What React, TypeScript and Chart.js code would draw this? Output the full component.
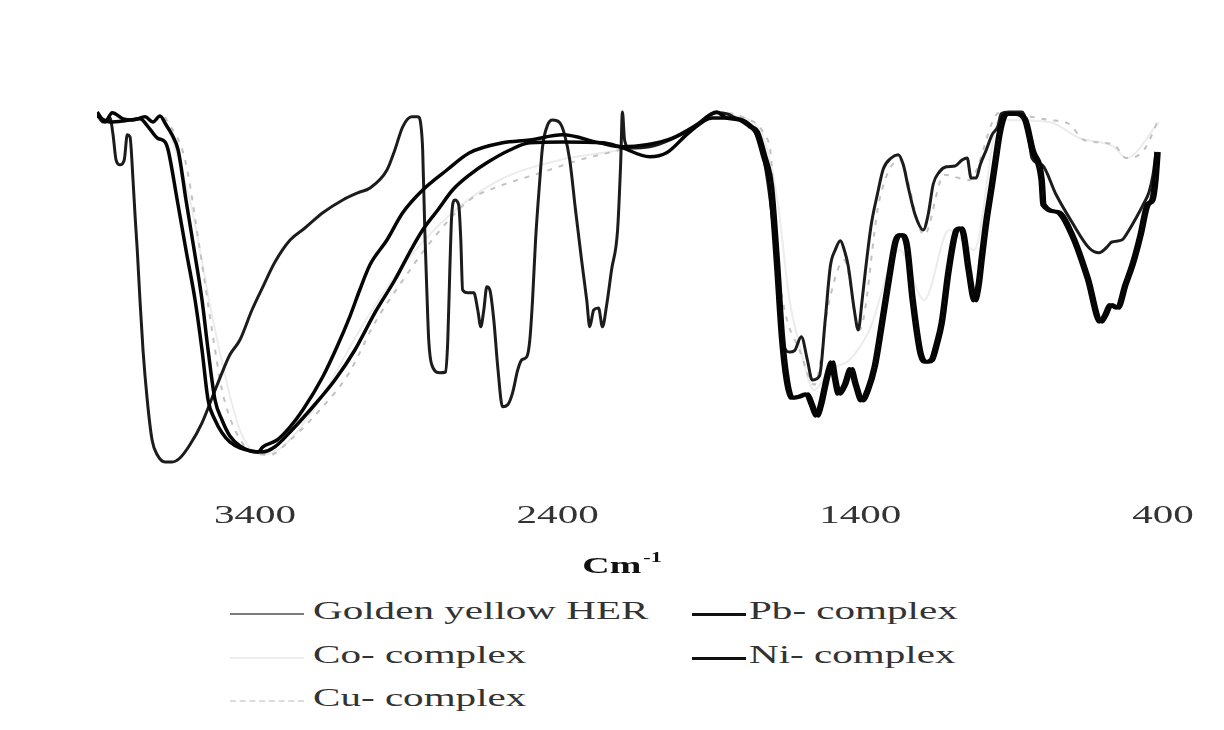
import React, { useEffect, useRef } from "react";
import { Chart, registerables } from "chart.js";

Chart.register(...registerables);

// x axis tick labels (wavenumber, cm-1)
const xTickValues = [3400, 2400, 1400, 400];

// Golden yellow HER
const herWn = [3921,3902,3879,3869,3859,3846,3832,3822,3813,3803,3796,3789,3780,3770,3756,3740,3723,3697,3674,3648,3615,3575,3542,3509,3483,3450,3410,3374,3334,3284,3235,3176,3110,3060,3020,2964,2938,2912,2882,2862,2852,2846,2839,2832,2826,2816,2789,2770,2763,2756,2750,2740,2727,2720,2714,2697,2677,2664,2654,2644,2634,2624,2611,2598,2582,2565,2549,2532,2519,2502,2492,2483,2473,2459,2450,2433,2417,2393,2377,2360,2341,2321,2304,2294,2281,2265,2252,2238,2222,2202,2192,2186,2179,2162,2096,2021,1941,1875,1839,1806,1776,1743,1724,1700,1677,1654,1634,1618,1595,1575,1559,1535,1516,1499,1483,1466,1453,1440,1420,1407,1394,1384,1364,1344,1324,1298,1275,1258,1242,1219,1192,1176,1159,1139,1116,1087,1064,1047,1034,1017,1004,984,965,945,935,908,866,849,833,800,753,701,644,611,588,569,536,512,489,466,446,433,423];
const herT = [91.3,89.5,90.5,86.3,80,78.8,80,86.3,85.8,75,65.8,57.5,45,32.5,20,10,6.3,4.5,4.5,5.5,8.8,14.3,20.5,26.8,31.3,35,42.5,48.3,54.5,60,63,66.8,70,71.8,73,77.5,82.5,88.3,90.8,90.8,88.8,82.5,62.5,46.8,35,28.8,26.8,27,35,53.3,66.3,70,68.8,60,47.5,46.8,46.8,42.5,38.3,42.5,48.3,47.5,40,28.3,18.3,18.8,21.8,27.5,30,30.8,35,45,60,75,83.3,88.8,90,89.3,86.3,80,67.5,55,45,38.3,42.5,43,38.3,43.8,52.5,62.5,78.8,92,85,83,83.3,85.3,88.5,91.8,91.5,90.3,89.5,86.3,82.3,71.3,55.3,34,32,32.3,35.8,30,25,26,40,53.5,57.5,59.8,57.5,53.5,42.5,37.5,45,51.8,63.8,71.3,77.8,80.5,81.3,78.8,73.3,66.3,62.5,66.3,74,77,78.3,78.5,80,80.5,75.5,75.5,78.8,82.5,86.3,88.5,91.5,92,92,88.8,80.5,78.8,71.3,64.5,58,56.8,58,59.5,60,62.5,65.5,68.8,72,76.3,82];

// Pb- complex
const pbWn = [3921,3895,3872,3836,3803,3763,3737,3714,3694,3674,3654,3628,3601,3575,3555,3532,3509,3483,3450,3417,3390,3374,3327,3284,3242,3176,3129,3087,3054,3020,2964,2912,2846,2766,2691,2582,2492,2384,2262,2186,2106,2021,1941,1875,1842,1799,1766,1747,1724,1700,1681,1664,1648,1631,1608,1582,1565,1549,1535,1522,1509,1499,1489,1476,1456,1436,1420,1400,1380,1357,1337,1311,1288,1271,1252,1232,1205,1186,1169,1153,1136,1113,1087,1073,1064,1047,1027,1014,1004,988,971,958,945,932,922,892,862,836,806,800,753,701,654,611,595,578,555,529,503,479,456,440,430,423];
const pbT = [92,89.5,91.8,90.3,90,90.8,89.5,91,88.8,86.3,82.5,70,57.5,45,32.5,20,15,11,8.5,7.3,7,8.3,10,13.3,17.5,25.8,33.3,40.8,47.5,53.8,60,66.8,72.5,77.5,81.8,84.3,85,86.3,84.3,83.3,83.8,85.5,88.8,92,90.5,90,88.3,87,81.3,73.3,55,35.8,25,20.5,20.8,21.5,18.8,16,18.8,23.3,27.5,29.5,25.5,21.5,23.8,27.8,23.8,19.8,22.5,28.5,37.5,50,59.8,61.3,59,45,31.3,29.5,30,33.8,39.3,52.5,62.5,63,61.5,52.5,44.8,48.8,55.3,65,73.3,80,86.5,90.5,91.5,91.5,90.3,82.5,75,68.8,67,60.5,50.5,39.5,41.3,43.8,43,48.8,54.5,61.3,68.8,70,75,82];

// Co- complex (very faint in the original)
const coWn = [3697,3615,3532,3450,3377,3301,3186,3054,2922,2756,2592,2393,2195,1998,1866,1783,1717,1674,1634,1601,1552,1502,1436,1370,1271,1189,1107,1024,941,776,677,562,522,413];
const coT = [90.5,70,37.5,12.5,6.3,8.8,20,37.5,52.5,66.3,75,80,82.5,86.3,91.3,90.5,85,70,45,33.8,22.5,27.5,30,37.5,57.5,45,62.5,57.5,90,89.5,85.5,83.3,80.5,89.5];

// Ni- complex
const niWn = [3921,3879,3829,3780,3753,3723,3697,3687,3657,3628,3598,3575,3555,3532,3509,3483,3450,3417,3377,3334,3284,3218,3136,3070,3004,2938,2879,2846,2796,2747,2691,2634,2558,2492,2384,2252,2195,2096,2040,1964,1889,1842,1832,1789,1756,1737,1714,1690,1671,1654,1638,1621,1598,1572,1555,1539,1525,1512,1499,1489,1479,1466,1446,1426,1410,1390,1370,1347,1327,1301,1278,1261,1242,1222,1195,1176,1159,1143,1126,1103,1077,1063,1054,1037,1017,1004,994,978,961,948,935,922,912,882,852,826,796,790,743,691,644,601,585,568,545,519,493,469,446,430,420,413];
const niT = [91,89.5,89.8,90.3,88.3,85.5,84.5,82.5,70,57.5,45,32.5,20,15,11.8,9.5,8,7.3,7,8.3,12,17.5,25,32.5,41.8,50,58.3,62.5,67.5,72.5,76.3,79.3,82.5,84.3,84.5,84.3,83.3,80.8,81.8,87,90.5,90.5,90.5,90,88.3,87,81.3,73.3,55,35.8,25,20.5,20.8,21.5,18.8,16,18.8,23.3,27.5,29.5,25.5,21.5,23.8,27.8,23.8,19.8,22.5,28.5,37.5,50,59.8,61.3,59,45,31.3,29.5,30,33.8,39.3,52.5,62.5,63,61.5,52.5,44.8,48.8,55.3,65,73.3,80,86.5,90.5,91.5,91.5,90.3,82.5,75,68.8,67,60.5,50.5,39.5,41.3,43.8,43,48.8,54.5,61.3,68.8,70,75,82];

// Cu- complex (light, broken line in the original)
const cuWn = [3697,3631,3582,3542,3509,3466,3410,3351,3284,3186,3093,3004,2922,2799,2691,2598,2456,2328,2195,1998,1866,1783,1717,1694,1677,1651,1601,1552,1502,1453,1403,1337,1271,1189,1123,1040,941,776,710,661,562,522,463,413];
const cuT = [90.8,80,57.5,37.5,22.5,12.5,7,6.3,10,17.5,26.3,39.3,48.8,61.5,70,73.3,76.8,80,82.5,86.3,91.8,90.5,86.3,80,57.3,42.8,32.5,23.8,45,55,37.5,70,80,61.3,76.3,75,91.8,90,89,85,83.8,80.5,82.5,90.5];

const seriesNames = ["Golden yellow HER", "Pb- complex", "Co- complex", "Ni- complex", "Cu- complex"];

const zip = (xs: number[], ys: number[]) => xs.map((x, i) => ({ x, y: ys[i] }));

const FONT = '"Liberation Serif", "Times New Roman", serif';
const STRETCH = 1.58;

const stretchLabels = {
  id: "stretchLabels",
  afterDraw(chart: any) {
    const ctx = chart.ctx;
    const xs = chart.scales.x;
    ctx.save();
    ctx.fillStyle = "#333";
    ctx.font = `26px ${FONT}`;
    ctx.textAlign = "center";
    ctx.textBaseline = "alphabetic";
    for (const t of xTickValues) {
      const px = xs.getPixelForValue(t);
      ctx.save();
      ctx.translate(px, 515);
      ctx.scale(STRETCH, 1);
      ctx.fillText(String(t), 0, 0);
      ctx.restore();
    }
    // axis title Cm-1
    ctx.fillStyle = "#111";
    ctx.textAlign = "left";
    ctx.font = `bold 24px ${FONT}`;
    const w1 = ctx.measureText("Cm").width * STRETCH;
    ctx.font = `bold 14px ${FONT}`;
    const w2 = ctx.measureText("-1").width * STRETCH;
    const cx = (chart.chartArea.left + chart.chartArea.right) / 2 - 8;
    const x0 = cx - (w1 + w2 + 2) / 2;
    ctx.save();
    ctx.translate(x0, 565);
    ctx.scale(STRETCH, 1);
    ctx.font = `bold 24px ${FONT}`;
    ctx.fillText("Cm", 0, 0);
    ctx.restore();
    ctx.save();
    ctx.translate(x0 + w1 + 2, 554);
    ctx.scale(STRETCH, 1);
    ctx.font = `bold 14px ${FONT}`;
    ctx.fillText("-1", 0, 0);
    ctx.restore();
    ctx.restore();
  },
};

const legendItems = [
  { name: seriesNames[0], left: 305, top: 590, lineLeft: 222, lineW: 74, color: "#7a7a7a", width: 2, dash: false },
  { name: seriesNames[1], left: 741, top: 590, lineLeft: 684, lineW: 54, color: "#111", width: 3, dash: false },
  { name: seriesNames[2], left: 305, top: 634, lineLeft: 222, lineW: 74, color: "#eeeeee", width: 2, dash: false },
  { name: seriesNames[3], left: 741, top: 634, lineLeft: 684, lineW: 54, color: "#111", width: 3, dash: false },
  { name: seriesNames[4], left: 305, top: 677, lineLeft: 222, lineW: 74, color: "#dcdcdc", width: 2, dash: true },
];

export default function App() {
  const ref = useRef<HTMLCanvasElement>(null);

  useEffect(() => {
    if (!ref.current) return;
    const chart = new Chart(ref.current, {
      type: "line",
      data: {
        datasets: [
          { label: seriesNames[0], data: zip(herWn, herT), borderColor: "#1c1c1c", borderWidth: 3, order: 2 },
          { label: seriesNames[1], data: zip(pbWn, pbT), borderColor: "#050505", borderWidth: 3.5, order: 0 },
          { label: seriesNames[2], data: zip(coWn, coT), borderColor: "#ececec", borderWidth: 2, order: 4 },
          { label: seriesNames[3], data: zip(niWn, niT), borderColor: "#050505", borderWidth: 3.5, order: 1 },
          { label: seriesNames[4], data: zip(cuWn, cuT), borderColor: "#c2c2c2", borderWidth: 2, borderDash: [5, 7], order: 3 },
        ] as any,
      },
      options: {
        responsive: false,
        animation: false,
        layout: { padding: { left: 89, right: 53, top: 72, bottom: 108 } },
        elements: {
          point: { radius: 0, hoverRadius: 0 },
          line: { cubicInterpolationMode: "monotone", fill: false },
        },
        scales: {
          x: { type: "linear", reverse: true, min: 400, max: 3922, display: false },
          y: { type: "linear", min: 0, max: 100, display: false },
        },
        plugins: { legend: { display: false }, tooltip: { enabled: false } },
      },
      plugins: [stretchLabels],
    } as any);
    return () => chart.destroy();
  }, []);

  return (
    <div style={{ position: "relative", width: 1208, height: 714, background: "#fff" }}>
      <canvas ref={ref} width={1208} height={580} style={{ position: "absolute", left: 0, top: 0 }} />
      {legendItems.map((it) => (
        <React.Fragment key={it.name}>
          <div
            style={{
              position: "absolute",
              left: it.lineLeft,
              top: it.top + 16 - it.width / 2,
              width: it.lineW,
              height: 0,
              borderTop: `${it.width}px ${it.dash ? "dashed" : "solid"} ${it.color}`,
            }}
          />
          <span
            style={{
              position: "absolute",
              left: it.left,
              top: it.top,
              fontFamily: FONT,
              fontSize: 26,
              lineHeight: "26px",
              color: "#333",
              whiteSpace: "nowrap",
              transform: `scaleX(${STRETCH})`,
              transformOrigin: "left top",
            }}
          >
            {it.name}
          </span>
        </React.Fragment>
      ))}
    </div>
  );
}
